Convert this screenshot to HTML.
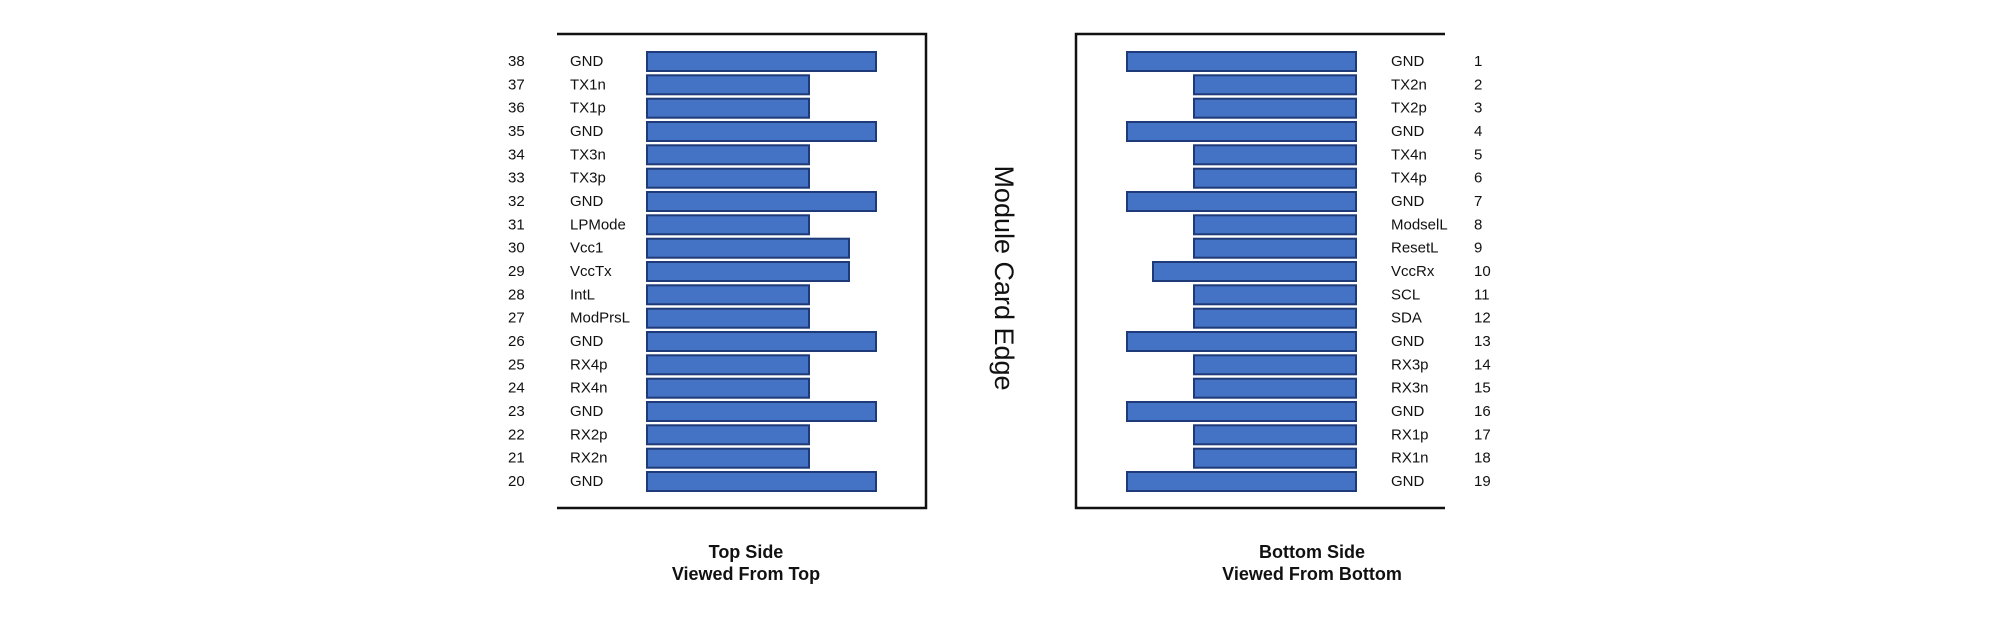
<!DOCTYPE html>
<html><head><meta charset="utf-8"><style>
html,body{margin:0;padding:0;background:#fff}
svg{display:block}
text{font-family:"Liberation Sans","DejaVu Sans",sans-serif;font-size:15px;fill:#111}
.b{fill:#4472c4;stroke:#1f3a78;stroke-width:2}
.c{font-weight:bold;font-size:18px;text-anchor:middle}
</style></head><body>
<svg width="2000" height="620" viewBox="0 0 2000 620" xmlns="http://www.w3.org/2000/svg">
<path d="M557 34H926V508H557" fill="none" stroke="#111" stroke-width="2.5"/>
<path d="M1445 34H1076V508H1445" fill="none" stroke="#111" stroke-width="2.5"/>
<g>
<rect class="b" x="647" y="52" width="229" height="19"/>
<rect class="b" x="647" y="75.3" width="162" height="19"/>
<rect class="b" x="647" y="98.7" width="162" height="19"/>
<rect class="b" x="647" y="122" width="229" height="19"/>
<rect class="b" x="647" y="145.3" width="162" height="19"/>
<rect class="b" x="647" y="168.7" width="162" height="19"/>
<rect class="b" x="647" y="192" width="229" height="19"/>
<rect class="b" x="647" y="215.3" width="162" height="19"/>
<rect class="b" x="647" y="238.7" width="202" height="19"/>
<rect class="b" x="647" y="262" width="202" height="19"/>
<rect class="b" x="647" y="285.3" width="162" height="19"/>
<rect class="b" x="647" y="308.7" width="162" height="19"/>
<rect class="b" x="647" y="332" width="229" height="19"/>
<rect class="b" x="647" y="355.3" width="162" height="19"/>
<rect class="b" x="647" y="378.7" width="162" height="19"/>
<rect class="b" x="647" y="402" width="229" height="19"/>
<rect class="b" x="647" y="425.3" width="162" height="19"/>
<rect class="b" x="647" y="448.7" width="162" height="19"/>
<rect class="b" x="647" y="472" width="229" height="19"/>
</g>
<g>
<rect class="b" x="1127" y="52" width="229" height="19"/>
<rect class="b" x="1194" y="75.3" width="162" height="19"/>
<rect class="b" x="1194" y="98.7" width="162" height="19"/>
<rect class="b" x="1127" y="122" width="229" height="19"/>
<rect class="b" x="1194" y="145.3" width="162" height="19"/>
<rect class="b" x="1194" y="168.7" width="162" height="19"/>
<rect class="b" x="1127" y="192" width="229" height="19"/>
<rect class="b" x="1194" y="215.3" width="162" height="19"/>
<rect class="b" x="1194" y="238.7" width="162" height="19"/>
<rect class="b" x="1153" y="262" width="203" height="19"/>
<rect class="b" x="1194" y="285.3" width="162" height="19"/>
<rect class="b" x="1194" y="308.7" width="162" height="19"/>
<rect class="b" x="1127" y="332" width="229" height="19"/>
<rect class="b" x="1194" y="355.3" width="162" height="19"/>
<rect class="b" x="1194" y="378.7" width="162" height="19"/>
<rect class="b" x="1127" y="402" width="229" height="19"/>
<rect class="b" x="1194" y="425.3" width="162" height="19"/>
<rect class="b" x="1194" y="448.7" width="162" height="19"/>
<rect class="b" x="1127" y="472" width="229" height="19"/>
</g>
<g>
<text x="508" y="66">38</text><text x="570" y="66">GND</text>
<text x="508" y="89.3">37</text><text x="570" y="89.3">TX1n</text>
<text x="508" y="112.7">36</text><text x="570" y="112.7">TX1p</text>
<text x="508" y="136">35</text><text x="570" y="136">GND</text>
<text x="508" y="159.3">34</text><text x="570" y="159.3">TX3n</text>
<text x="508" y="182.7">33</text><text x="570" y="182.7">TX3p</text>
<text x="508" y="206">32</text><text x="570" y="206">GND</text>
<text x="508" y="229.3">31</text><text x="570" y="229.3">LPMode</text>
<text x="508" y="252.7">30</text><text x="570" y="252.7">Vcc1</text>
<text x="508" y="276">29</text><text x="570" y="276">VccTx</text>
<text x="508" y="299.3">28</text><text x="570" y="299.3">IntL</text>
<text x="508" y="322.7">27</text><text x="570" y="322.7">ModPrsL</text>
<text x="508" y="346">26</text><text x="570" y="346">GND</text>
<text x="508" y="369.3">25</text><text x="570" y="369.3">RX4p</text>
<text x="508" y="392.7">24</text><text x="570" y="392.7">RX4n</text>
<text x="508" y="416">23</text><text x="570" y="416">GND</text>
<text x="508" y="439.3">22</text><text x="570" y="439.3">RX2p</text>
<text x="508" y="462.7">21</text><text x="570" y="462.7">RX2n</text>
<text x="508" y="486">20</text><text x="570" y="486">GND</text>
</g>
<g>
<text x="1391" y="66">GND</text><text x="1474" y="66">1</text>
<text x="1391" y="89.3">TX2n</text><text x="1474" y="89.3">2</text>
<text x="1391" y="112.7">TX2p</text><text x="1474" y="112.7">3</text>
<text x="1391" y="136">GND</text><text x="1474" y="136">4</text>
<text x="1391" y="159.3">TX4n</text><text x="1474" y="159.3">5</text>
<text x="1391" y="182.7">TX4p</text><text x="1474" y="182.7">6</text>
<text x="1391" y="206">GND</text><text x="1474" y="206">7</text>
<text x="1391" y="229.3">ModselL</text><text x="1474" y="229.3">8</text>
<text x="1391" y="252.7">ResetL</text><text x="1474" y="252.7">9</text>
<text x="1391" y="276">VccRx</text><text x="1474" y="276">10</text>
<text x="1391" y="299.3">SCL</text><text x="1474" y="299.3">11</text>
<text x="1391" y="322.7">SDA</text><text x="1474" y="322.7">12</text>
<text x="1391" y="346">GND</text><text x="1474" y="346">13</text>
<text x="1391" y="369.3">RX3p</text><text x="1474" y="369.3">14</text>
<text x="1391" y="392.7">RX3n</text><text x="1474" y="392.7">15</text>
<text x="1391" y="416">GND</text><text x="1474" y="416">16</text>
<text x="1391" y="439.3">RX1p</text><text x="1474" y="439.3">17</text>
<text x="1391" y="462.7">RX1n</text><text x="1474" y="462.7">18</text>
<text x="1391" y="486">GND</text><text x="1474" y="486">19</text>
</g>
<text x="0" y="0" transform="translate(995 278) rotate(90)" style="font-size:27px;text-anchor:middle">Module Card Edge</text>
<text class="c" x="746" y="558">Top Side</text>
<text class="c" x="746" y="580">Viewed From Top</text>
<text class="c" x="1312" y="558">Bottom Side</text>
<text class="c" x="1312" y="580">Viewed From Bottom</text>
</svg>
</body></html>
